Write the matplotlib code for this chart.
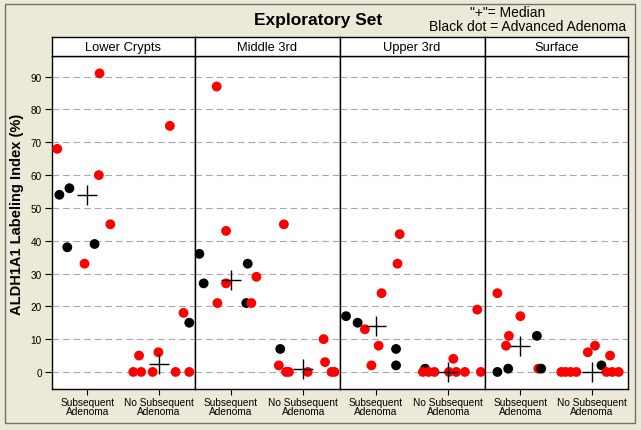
import matplotlib.pyplot as plt
import numpy as np
from matplotlib.patches import Rectangle

plt.rcParams['font.family'] = ['Liberation Sans', 'DejaVu Sans']

# crypt regions and groups
regions = ["Lower Crypts", "Middle 3rd", "Upper 3rd", "Surface"]
groups = ["Subsequent\nAdenoma", "No Subsequent\nAdenoma"]

# labeling index (%), jitter offset, advanced adenoma flag (1 = black dot)
lower_sub_vals = [68, 54, 38, 56, 33, 39, 60, 91, 45]
lower_sub_jit = [-0.42, -0.39, -0.28, -0.25, -0.04, 0.10, 0.16, 0.17, 0.32]
lower_sub_adv = [0, 1, 1, 1, 0, 1, 0, 0, 0]
lower_no_vals = [0, 5, 0, 0, 6, 75, 0, 18, 15, 0]
lower_no_jit = [-0.36, -0.28, -0.25, -0.09, -0.01, 0.15, 0.23, 0.34, 0.42, 0.42]
lower_no_adv = [0, 0, 0, 0, 0, 0, 0, 0, 1, 0]

middle_sub_vals = [36, 27, 87, 21, 43, 27, 21, 33, 21, 29]
middle_sub_jit = [-0.44, -0.38, -0.20, -0.19, -0.07, -0.07, 0.21, 0.23, 0.28, 0.35]
middle_sub_adv = [1, 1, 0, 0, 0, 0, 1, 1, 0, 0]
middle_no_vals = [2, 7, 45, 0, 0, 0, 10, 3, 0, 0]
middle_no_jit = [-0.34, -0.32, -0.27, -0.24, -0.20, 0.06, 0.28, 0.30, 0.39, 0.43]
middle_no_adv = [0, 1, 0, 0, 0, 0, 0, 0, 0, 0]

upper_sub_vals = [17, 15, 13, 2, 8, 24, 7, 2, 33, 42]
upper_sub_jit = [-0.41, -0.25, -0.15, -0.06, 0.04, 0.08, 0.28, 0.28, 0.30, 0.33]
upper_sub_adv = [1, 1, 0, 0, 0, 0, 1, 1, 0, 0]
upper_no_vals = [1, 0, 0, 0, 0, 4, 0, 0, 19, 0]
upper_no_jit = [-0.32, -0.35, -0.27, -0.19, 0.01, 0.07, 0.11, 0.23, 0.40, 0.45]
upper_no_adv = [1, 0, 0, 0, 0, 0, 0, 0, 0, 0]

surface_sub_vals = [24, 0, 8, 1, 11, 17, 11, 1, 1]
surface_sub_jit = [-0.32, -0.32, -0.20, -0.17, -0.16, 0.00, 0.23, 0.25, 0.29]
surface_sub_adv = [0, 1, 0, 1, 0, 0, 1, 0, 1]
surface_no_vals = [0, 0, 0, 0, 6, 8, 2, 0, 5, 0, 0]
surface_no_jit = [-0.43, -0.37, -0.30, -0.22, -0.06, 0.04, 0.13, 0.20, 0.25, 0.28, 0.37]
surface_no_adv = [0, 0, 0, 0, 0, 0, 1, 0, 0, 0, 0]

data = [
    [(lower_sub_vals, lower_sub_jit, lower_sub_adv), (lower_no_vals, lower_no_jit, lower_no_adv)],
    [(middle_sub_vals, middle_sub_jit, middle_sub_adv), (middle_no_vals, middle_no_jit, middle_no_adv)],
    [(upper_sub_vals, upper_sub_jit, upper_sub_adv), (upper_no_vals, upper_no_jit, upper_no_adv)],
    [(surface_sub_vals, surface_sub_jit, surface_sub_adv), (surface_no_vals, surface_no_jit, surface_no_adv)],
]

W, H = 641, 431
bg = '#ECE9D8'
fig = plt.figure(figsize=(W / 100, H / 100), dpi=100, facecolor=bg)


def fx(px):
    return px / W


def fy(py):
    return 1 - py / H


# panel edges in pixels
edges = [51.5, 195, 339.5, 484.5, 628]
ax_top, ax_bot, strip_top = 57, 390, 38

for i, name in enumerate(regions):
    l, r = edges[i], edges[i + 1]
    ax = fig.add_axes([fx(l), fy(ax_bot), fx(r - l), (ax_bot - ax_top) / H])
    ax.set_facecolor('white')
    ax.set_xlim(0.5, 2.5)
    ax.set_ylim(-5.2, 96.3)
    ax.set_yticks(range(0, 100, 10))
    ax.set_xticks([1, 2])
    ax.set_xticklabels(groups, fontsize=7.3, linespacing=0.95)
    ax.yaxis.grid(True, color='#A8A8A8', linestyle=(0, (6, 3.5)), linewidth=0.8)
    ax.set_axisbelow(True)
    ax.tick_params(axis='x', length=4, width=0.8, pad=1.5)
    if i == 0:
        ax.tick_params(axis='y', length=5, width=0.8, labelsize=7.2, pad=2)
    else:
        ax.tick_params(axis='y', left=False, labelleft=False)
    for sp in ax.spines.values():
        sp.set_linewidth(1)
        sp.set_color('black')

    for g, (vals, jit, adv) in enumerate(data[i]):
        xs = np.array(jit) + g + 1
        vals = np.array(vals)
        colors = ['black' if a else '#FF0000' for a in adv]
        ax.scatter(xs, vals, s=50, c=colors, edgecolors='none', zorder=3)
        ax.plot(g + 1, np.median(vals), marker='+', ms=14, mew=1,
                color='black', zorder=4)

    # strip header
    sax = fig.add_axes([fx(l), fy(ax_top), fx(r - l), (ax_top - strip_top) / H])
    sax.set_facecolor('white')
    sax.set_xticks([])
    sax.set_yticks([])
    for sp in sax.spines.values():
        sp.set_linewidth(1)
        sp.set_color('black')
    sax.text(0.5, 0.5, name, ha='center', va='center', fontsize=9.3,
             transform=sax.transAxes)

fig.text(fx(318), fy(21), "Exploratory Set", ha='center', va='center',
         fontsize=12.5, fontweight='bold')
fig.text(fx(508), fy(13), '"+"= Median', ha='center', va='center', fontsize=10)
fig.text(fx(528), fy(27), 'Black dot = Advanced Adenoma', ha='center',
         va='center', fontsize=10)
fig.text(fx(17), fy(214), "ALDH1A1 Labeling Index (%)", ha='center',
         va='center', rotation=90, fontsize=10.5, fontweight='bold')

# outer frame
fig.patches.append(Rectangle((fx(5), fy(424)), fx(630), 419 / H,
                             transform=fig.transFigure, fill=False,
                             edgecolor='#707070', linewidth=1))

plt.savefig("out.png", dpi=100, facecolor=bg)
